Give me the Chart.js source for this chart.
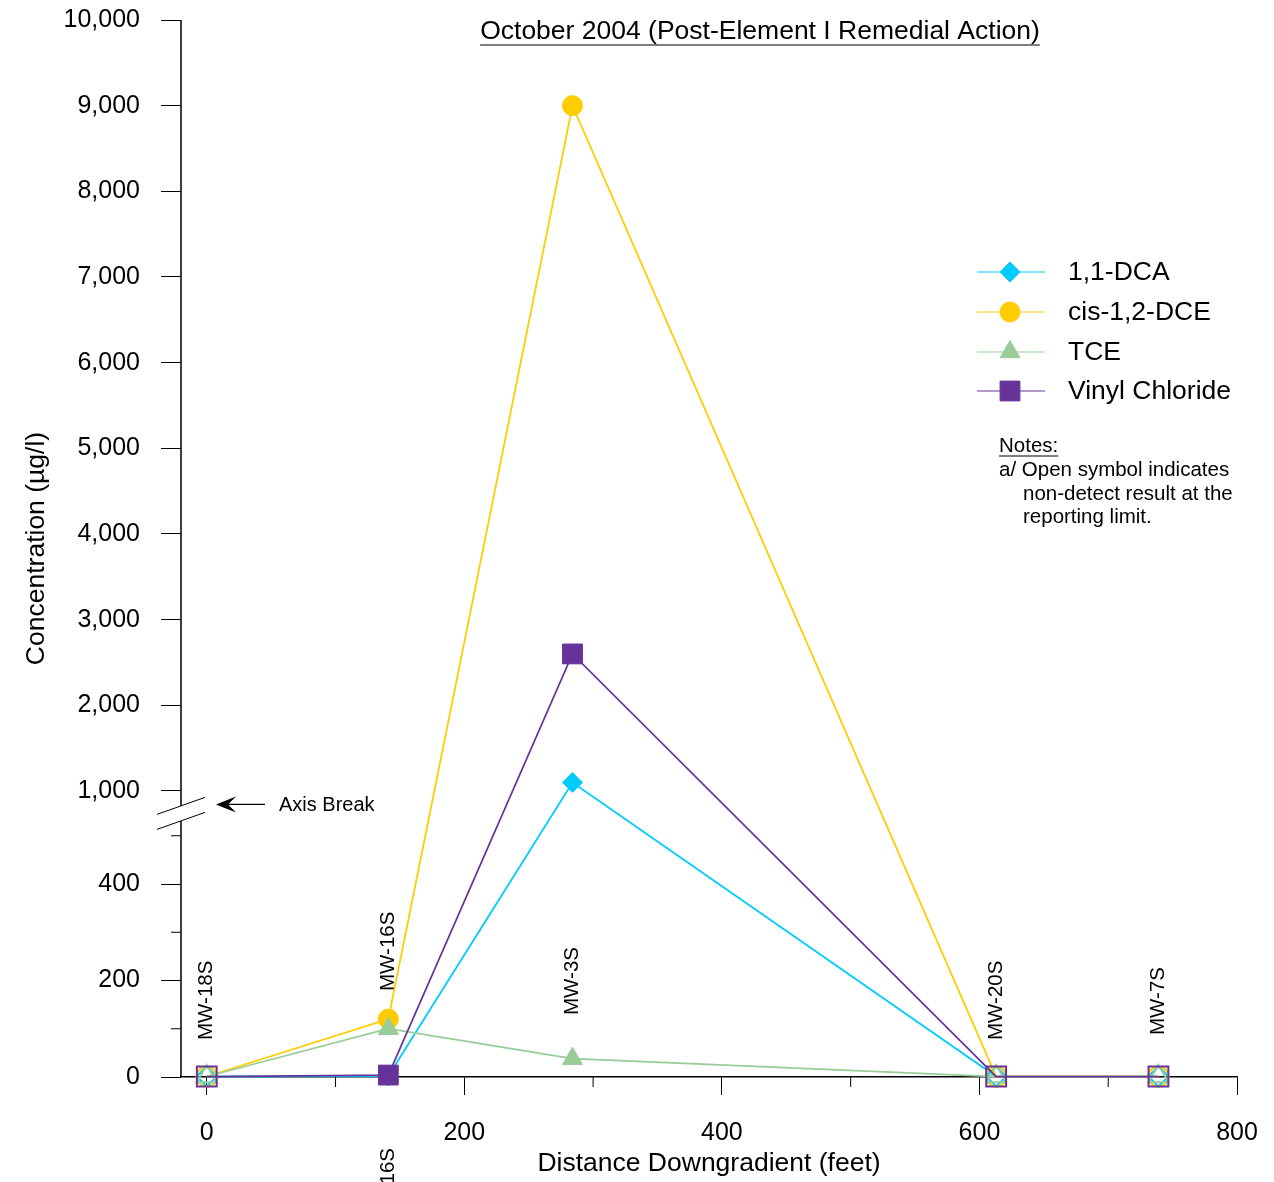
<!DOCTYPE html>
<html>
<head>
<meta charset="utf-8">
<script src="https://cdn.jsdelivr.net/npm/chart.js@4.4.1/dist/chart.umd.min.js"></script>
<style>
  html, body { margin: 0; padding: 0; background: #fff; }
  #wrap { width: 1274px; height: 1182px; position: relative; }
</style>
</head>
<body>
<div id="wrap"><canvas id="chart" width="1274" height="1182"></canvas></div>
<script>
// Monitoring wells along the plume centerline and their distance downgradient (feet)
const wells = ['MW-18S', 'MW-16S', 'MW-3S', 'MW-20S', 'MW-7S'];
const distanceFt = [0, 141, 284, 613, 739];

// Concentrations, µg/l (non-detects plotted at the reporting limit)
const dca = [1, 2, 1100, 1, 1];
const cisDce = [1, 120, 9000, 1, 1];
const tce = [1, 100, 38, 1, 1];
const vinylChloride = [1, 4, 2600, 1, 1];

// true = non-detect (open symbol)
const dcaNonDetect = [true, false, false, true, true];
const cisDceNonDetect = [true, false, false, true, true];
const tceNonDetect = [true, false, false, true, true];
const vinylChlorideNonDetect = [true, false, false, true, true];

// Axis ticks
const yTickValues = [0, 200, 400, 1000, 2000, 3000, 4000, 5000, 6000, 7000, 8000, 9000, 10000];
const yMinorTickValues = [100, 300, 500];
const xTickValues = [0, 200, 400, 600, 800];
const xMinorTickValues = [100, 300, 500, 700];
const xRange = [-20, 800];

// Values between these two are squeezed into the axis break
const breakLow = 500;
const breakHigh = 1000;

const FONT = "'Liberation Sans', Arial, Helvetica, sans-serif";
Chart.defaults.font.family = FONT;
Chart.defaults.color = '#000';

// Share of the axis height given to the lower segment and to the break gap
const LOWER_SHARE = 241.25 / 1057;
const GAP_SHARE = 44.75 / 1057;

class BrokenLinearScale extends Chart.LinearScale {
  _toDecimal(v) {
    const max = this.max;
    if (v <= breakLow) return (v / breakLow) * LOWER_SHARE;
    if (v <= breakHigh) return LOWER_SHARE + (v - breakLow) / (breakHigh - breakLow) * GAP_SHARE;
    return LOWER_SHARE + GAP_SHARE + (v - breakHigh) / (max - breakHigh) * (1 - LOWER_SHARE - GAP_SHARE);
  }
  getPixelForValue(value) {
    if (value === null || value === undefined || isNaN(value)) return NaN;
    return this.getPixelForDecimal(this._toDecimal(value));
  }
  getValueForPixel(pixel) {
    const d = this.getDecimalForPixel(pixel);
    if (d <= LOWER_SHARE) return d / LOWER_SHARE * breakLow;
    if (d <= LOWER_SHARE + GAP_SHARE) return breakLow + (d - LOWER_SHARE) / GAP_SHARE * (breakHigh - breakLow);
    return breakHigh + (d - LOWER_SHARE - GAP_SHARE) / (1 - LOWER_SHARE - GAP_SHARE) * (this.max - breakHigh);
  }
}
BrokenLinearScale.id = 'brokenLinear';
BrokenLinearScale.defaults = Chart.LinearScale.defaults;
Chart.register(BrokenLinearScale);

const styles = {
  dca:   { color: '#00CCFF', pointStyle: 'rectRot', radius: 10 },
  cis:   { color: '#FFCC00', pointStyle: 'circle', radius: 10 },
  tce:   { color: '#99CC99', pointStyle: 'triangle', radius: 11.5 },
  vc:    { color: '#663399', pointStyle: 'rect', radius: 14 }
};

function series(label, values, nonDetect, st, order) {
  return {
    label,
    data: distanceFt.map((x, i) => ({ x, y: values[i] })),
    borderColor: st.color,
    backgroundColor: st.color,
    borderWidth: 1.75,
    pointStyle: st.pointStyle,
    pointRadius: st.radius,
    pointHoverRadius: st.radius,
    pointBorderColor: st.color,
    pointBackgroundColor: nonDetect.map(nd => nd ? 'rgba(255,255,255,0)' : st.color),
    pointBorderWidth: nonDetect.map(nd => nd ? 2 : 1),
    order,
    clip: false,
    tension: 0
  };
}

const datasets = [
  series('1,1-DCA', dca, dcaNonDetect, styles.dca, 4),
  series('cis-1,2-DCE', cisDce, cisDceNonDetect, styles.cis, 3),
  series('TCE', tce, tceNonDetect, styles.tce, 2),
  series('Vinyl Chloride', vinylChloride, vinylChlorideNonDetect, styles.vc, 1)
];

function underlinedText(ctx, text, x, y, align, font, gap) {
  ctx.font = font;
  ctx.textAlign = align;
  ctx.textBaseline = 'middle';
  ctx.fillStyle = '#000';
  ctx.fillText(text, x, y);
  const w = ctx.measureText(text).width;
  const x0 = align === 'center' ? x - w / 2 : x;
  ctx.beginPath();
  ctx.lineWidth = 1.2;
  ctx.strokeStyle = '#000';
  ctx.moveTo(x0, y + gap);
  ctx.lineTo(x0 + w, y + gap);
  ctx.stroke();
}

const annotations = {
  id: 'annotations',
  beforeDatasetsDraw(chart) {
    const { ctx } = chart;
    const ys = chart.scales.y, xs = chart.scales.x;
    const ax = ys.right;
    const pLow = ys.getPixelForValue(breakLow);
    const pHigh = ys.getPixelForValue(breakHigh);
    const mid = (pLow + pHigh) / 2;
    ctx.save();
    ctx.strokeStyle = '#000';
    ctx.lineWidth = 1.5;
    // vertical axis, interrupted at the break
    ctx.beginPath();
    ctx.moveTo(ax, ys.top);
    ctx.lineTo(ax, mid - 7.5);
    ctx.moveTo(ax, mid + 7.5);
    ctx.lineTo(ax, ys.bottom);
    ctx.stroke();
    // break marks
    ctx.lineWidth = 1;
    ctx.beginPath();
    ctx.moveTo(ax - 24, mid - 7.5 + 8.5);
    ctx.lineTo(ax + 24, mid - 7.5 - 8.5);
    ctx.moveTo(ax - 24, mid + 7.5 + 8.5);
    ctx.lineTo(ax + 24, mid + 7.5 - 8.5);
    ctx.stroke();
    // minor ticks
    ctx.lineWidth = 1;
    ctx.beginPath();
    yMinorTickValues.forEach(v => {
      const p = ys.getPixelForValue(v);
      ctx.moveTo(ax - 10, p);
      ctx.lineTo(ax, p);
    });
    xMinorTickValues.forEach(v => {
      const p = xs.getPixelForValue(v);
      ctx.moveTo(p, xs.top);
      ctx.lineTo(p, xs.top + 10);
    });
    ctx.stroke();

    // well names, rotated
    const lift = [37, 86, 62, 37, 42];
    ctx.font = `20.5px ${FONT}`;
    ctx.fillStyle = '#000';
    wells.forEach((w, i) => {
      const px = xs.getPixelForValue(distanceFt[i]);
      ctx.save();
      ctx.translate(px, ys.bottom - lift[i]);
      ctx.rotate(-Math.PI / 2);
      ctx.textAlign = 'left';
      ctx.textBaseline = 'middle';
      ctx.fillText(w, 0, 0);
      ctx.restore();
    });
    // repeated well name below the axis
    ctx.save();
    ctx.translate(xs.getPixelForValue(distanceFt[1]), 1148);
    ctx.rotate(-Math.PI / 2);
    ctx.textAlign = 'right';
    ctx.textBaseline = 'middle';
    ctx.fillText(wells[1], 0, 0);
    ctx.restore();
    ctx.restore();
  },
  afterDraw(chart) {
    const { ctx } = chart;
    const ys = chart.scales.y;
    ctx.save();
    // title
    underlinedText(ctx, 'October 2004 (Post-Element I Remedial Action)', 760, 32,
      'center', `26.5px ${FONT}`, 13);

    // axis break callout
    const mid = (ys.getPixelForValue(breakLow) + ys.getPixelForValue(breakHigh)) / 2;
    const ay = mid - 9;
    ctx.strokeStyle = '#000';
    ctx.fillStyle = '#000';
    ctx.lineWidth = 1.2;
    ctx.beginPath();
    ctx.moveTo(265, ay);
    ctx.lineTo(224, ay);
    ctx.stroke();
    ctx.beginPath();
    ctx.moveTo(216, ay);
    ctx.lineTo(236, ay - 8);
    ctx.lineTo(228, ay);
    ctx.lineTo(236, ay + 8);
    ctx.closePath();
    ctx.fill();
    ctx.font = `20px ${FONT}`;
    ctx.textAlign = 'left';
    ctx.textBaseline = 'middle';
    ctx.fillText('Axis Break', 279, ay + 1);

    // legend
    const rows = [272, 312, 352, 391];
    chart.data.datasets.forEach((d, i) => {
      const y = rows[i];
      ctx.strokeStyle = d.borderColor;
      ctx.lineWidth = 1;
      ctx.beginPath();
      ctx.moveTo(977, y);
      ctx.lineTo(1045, y);
      ctx.stroke();
      ctx.fillStyle = d.borderColor;
      ctx.strokeStyle = d.borderColor;
      Chart.helpers.drawPoint(ctx, {
        pointStyle: d.pointStyle, radius: d.pointRadius, rotation: 0, borderWidth: 1
      }, 1010, y);
      ctx.fillStyle = '#000';
      ctx.font = `26.5px ${FONT}`;
      ctx.textAlign = 'left';
      ctx.textBaseline = 'middle';
      ctx.fillText(d.label, 1068, y + 1);
    });

    // notes
    underlinedText(ctx, 'Notes:', 999, 446, 'left', `20.5px ${FONT}`, 10);
    ctx.font = `20.5px ${FONT}`;
    ctx.textAlign = 'left';
    ctx.fillText('a/ Open symbol indicates', 999, 470);
    ctx.fillText('non-detect result at the', 1023, 494);
    ctx.fillText('reporting limit.', 1023, 517);
    ctx.restore();
  }
};

new Chart(document.getElementById('chart'), {
  type: 'line',
  data: { datasets },
  plugins: [annotations],
  options: {
    responsive: false,
    animation: false,
    events: [],
    layout: { padding: { top: 20, right: 37, left: 0, bottom: 0 } },
    plugins: { legend: { display: false }, tooltip: { enabled: false }, title: { display: false } },
    scales: {
      x: {
        type: 'linear',
        min: xRange[0],
        max: xRange[1],
        afterBuildTicks: s => { s.ticks = xTickValues.map(v => ({ value: v })); },
        afterFit: s => { s.height = 105; s.paddingLeft = 0; s.paddingRight = 0; },
        ticks: { font: { size: 25 }, color: '#000', padding: 23, autoSkip: false, maxRotation: 0 },
        grid: { drawOnChartArea: false, drawTicks: true, tickLength: 18, color: '#000', lineWidth: 1 },
        border: { display: true, color: '#000', width: 1.5 },
        title: {
          display: true, text: 'Distance Downgradient (feet)', color: '#000',
          font: { size: 26.5 }, padding: { top: 2, bottom: 2 }
        }
      },
      y: {
        type: 'brokenLinear',
        min: 0,
        max: 10000,
        afterBuildTicks: s => { s.ticks = yTickValues.map(v => ({ value: v })); },
        afterFit: s => { s.width = 181; s.paddingTop = 0; s.paddingBottom = 0; },
        ticks: {
          font: { size: 25 }, color: '#000', padding: 21, autoSkip: false,
          callback: v => Number(v).toLocaleString('en-US')
        },
        grid: { drawOnChartArea: false, drawTicks: true, tickLength: 20, color: '#000', lineWidth: 1 },
        border: { display: false },
        title: {
          display: true, text: 'Concentration (µg/l)', color: '#000',
          font: { size: 26.5 }, padding: { top: 21, bottom: 21 }
        }
      }
    }
  }
});
</script>
</body>
</html>
